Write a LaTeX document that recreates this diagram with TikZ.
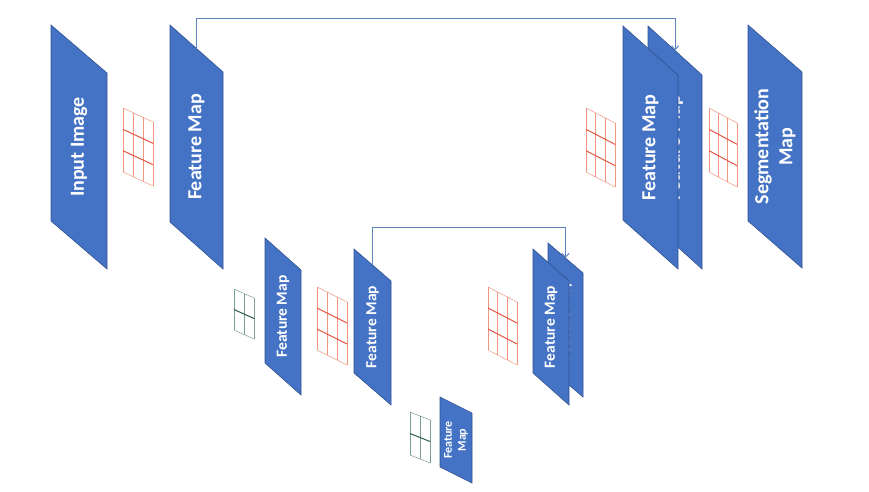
\documentclass[tikz,border=0pt]{standalone}
\usepackage{fontspec}
\setmainfont{Carlito}
\usepackage{xcolor}
\usetikzlibrary{arrows.meta}
\definecolor{mapblue}{RGB}{68,114,196}
\definecolor{mapedge}{RGB}{47,82,143}
\definecolor{kernred}{RGB}{242,150,130}
\definecolor{kernredd}{RGB}{228,86,64}
\definecolor{kerngreen}{RGB}{120,158,148}
\definecolor{kerngreend}{RGB}{45,88,78}
\definecolor{skipblue}{RGB}{92,130,190}
\tikzstyle{fmapbox} = [fill=mapblue, draw=mapedge, line width=0.6pt]
\tikzstyle{maplabel} = [text=white, rotate=90, align=center, inner sep=0pt]
\tikzstyle{biglabel} = [maplabel, font=\bfseries\fontsize{20}{24}\selectfont]
\tikzstyle{midlabel} = [maplabel, font=\bfseries\fontsize{15.5}{18}\selectfont]
\tikzstyle{smalllabel} = [maplabel, font=\bfseries\fontsize{12}{14}\selectfont]
\tikzstyle{skip} = [draw=skipblue, line width=1pt, -{Straight Barb[length=4pt,width=7pt]}]
% parallelogram: name, x, y, width, skew, height
\newcommand{\fmapshape}[6]{%
  \draw[fmapbox] (#2,#3) -- ++(#4,#5) -- ++(0,#6) -- ++(-#4,-#5) -- cycle;
  \coordinate (#1-top) at ({#2+#4/2},{#3+#5/2});
  \coordinate (#1-c) at ({#2+#4/2},{#3+#5/2+#6/2});
}
% kernel grid: x, y, width, skew, height, cells, thin colour, thick colour
\newcommand{\kernelgrid}[8]{%
  \foreach \i in {0,...,#6}
    \draw[#7, line width=0.5pt] ({#1+\i*#3/#6},{#2+\i*#4/#6}) -- ++(0,#5);
  \foreach \j in {0,#6}
    \draw[#7, line width=0.5pt] (#1,{#2+\j*#5/#6}) -- ++(#3,#4);
  \pgfmathtruncatemacro\kmax{#6-1}
  \foreach \j in {1,...,\kmax}
    \draw[#8, line width=1pt] (#1,{#2+\j*#5/#6}) -- ++(#3,#4);
}
\begin{document}
\begin{tikzpicture}[x=1pt, y=-1pt]
\useasboundingbox (0,0) rectangle (869,491);

% Encoder, top level
\fmapshape{in}{51}{25}{56}{48}{196}
\node (input) [biglabel] at (in-c) {Input Image};
\fmapshape{fm1}{170}{25}{53}{47}{197}
\node (feat1) [biglabel] at (fm1-c) {Feature Map};

% Encoder, middle level
\fmapshape{fm2a}{265}{238}{36}{32}{125}
\node (feat2a) [midlabel] at (fm2a-c) {Feature Map};
\fmapshape{fm2b}{354}{249}{37}{32}{124}
\node (feat2b) [midlabel] at (fm2b-c) {Feature Map};

% Bottom
\fmapshape{fm3}{440}{397}{32}{16}{70}
\node (feat3) [smalllabel] at (fm3-c) {Feature\\Map};

% Decoder, middle level
\fmapshape{up2b}{548}{243}{35}{30}{124}
\node (up2back) [midlabel] at (up2b-c) {Feature Map};
\fmapshape{up2a}{533}{249}{36}{32}{124}
\node (up2front) [midlabel] at (up2a-c) {Feature Map};

% Decoder, top level
\fmapshape{up1b}{648}{26}{54}{49}{194}
\node (up1back) [biglabel] at (up1b-c) {Feature Map};
\fmapshape{up1a}{623}{26}{55}{49}{194}
\node (up1front) [biglabel] at (up1a-c) {Feature Map};
\fmapshape{seg}{748}{25}{54}{47}{196}
\node (segmap) [biglabel] at (seg-c) {Segmentation\\Map};

% Kernels
\kernelgrid{123}{108}{30}{14}{64}{3}{kernred}{kernredd}
\kernelgrid{586}{108}{29}{15}{64}{3}{kernred}{kernredd}
\kernelgrid{709}{108}{28}{15}{64}{3}{kernred}{kernredd}
\kernelgrid{317}{287}{30}{15}{63}{3}{kernred}{kernredd}
\kernelgrid{488}{287}{29}{15}{63}{3}{kernred}{kernredd}
\kernelgrid{234}{289}{20}{9}{41}{2}{kerngreen}{kerngreend}
\kernelgrid{410}{412}{20}{8}{43}{2}{kerngreen}{kerngreend}

% Skip connections
\draw [skip] (fm1-top) -- (fm1-top |- 0,18) -| (up1b-top);
\draw [skip] (fm2b-top) -- (fm2b-top |- 0,227) -| (up2b-top);

\end{tikzpicture}
\end{document}
